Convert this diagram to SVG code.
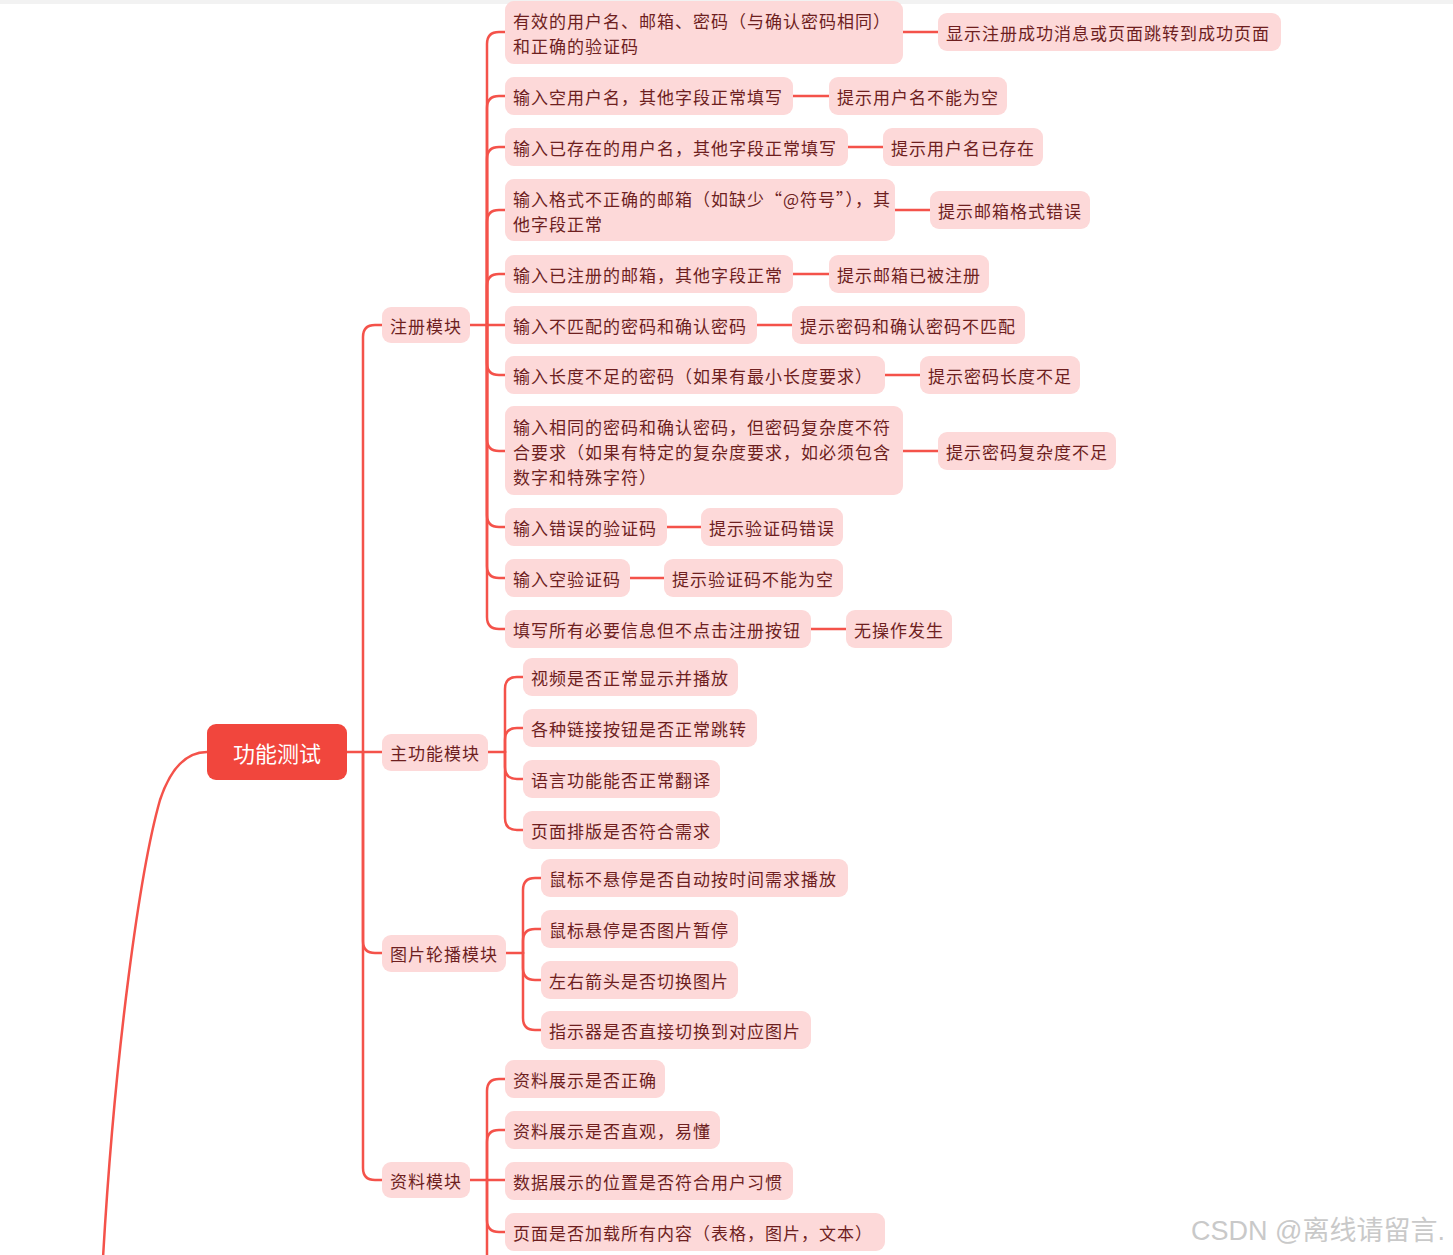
<svg xmlns="http://www.w3.org/2000/svg" width="1453" height="1255" viewBox="0 0 1453 1255">
<style>
.bg{fill:#ffffff}
.box{fill:#fdd9d9}
.t{font-family:"Noto Sans CJK SC","Liberation Sans",sans-serif;font-size:17px;letter-spacing:1px;fill:#6e1f1f;dominant-baseline:central}
.root{fill:#f1463d}
.rt{font-family:"Noto Sans CJK SC","Liberation Sans",sans-serif;font-size:22px;fill:#ffffff;dominant-baseline:central;text-anchor:middle}
.c{fill:none;stroke:#f4524a;stroke-width:2.5;stroke-linecap:round;stroke-linejoin:round}
.wm{font-family:"Liberation Sans","Noto Sans CJK SC",sans-serif;font-size:27px;fill:#c9c9c9}
</style>
<rect class="bg" x="0" y="0" width="1453" height="1255"/>
<rect x="0" y="0" width="1453" height="4" fill="#f2f2f2"/>
<g id="connectors">
  <path class="c" d="M207,752 C185,752 170,770 160,800 C140,870 115,1050 103,1258"/>
  <path class="c" d="M347,752 H382"/>
  <path class="c" d="M363,752 V337 Q363,325 375,325 H382"/>
  <path class="c" d="M363,752 V941 Q363,953 375,953 H382"/>
  <path class="c" d="M363,752 V1168 Q363,1180 375,1180 H382"/>
  <path class="c" d="M470,325 H505"/>
  <path class="c" d="M487,325 V44 Q487,32 499,32 H505"/>
  <path class="c" d="M487,325 V108 Q487,96 499,96 H505"/>
  <path class="c" d="M487,325 V159 Q487,147 499,147 H505"/>
  <path class="c" d="M487,325 V222 Q487,210 499,210 H505"/>
  <path class="c" d="M487,325 V286 Q487,274 499,274 H505"/>
  <path class="c" d="M487,325 V363 Q487,375 499,375 H505"/>
  <path class="c" d="M487,325 V439 Q487,451 499,451 H505"/>
  <path class="c" d="M487,325 V515 Q487,527 499,527 H505"/>
  <path class="c" d="M487,325 V566 Q487,578 499,578 H505"/>
  <path class="c" d="M487,325 V617 Q487,629 499,629 H505"/>
  <path class="c" d="M903,32 H938"/>
  <path class="c" d="M793,96 H829"/>
  <path class="c" d="M848,147 H883"/>
  <path class="c" d="M895,210 H930"/>
  <path class="c" d="M793,274 H829"/>
  <path class="c" d="M757,325 H792"/>
  <path class="c" d="M885,375 H920"/>
  <path class="c" d="M903,451 H938"/>
  <path class="c" d="M667,527 H701"/>
  <path class="c" d="M630,578 H664"/>
  <path class="c" d="M811,629 H846"/>
  <path class="c" d="M488,752 H505"/>
  <path class="c" d="M505,752 V689 Q505,677 517,677 H523"/>
  <path class="c" d="M505,752 V740 Q505,728 517,728 H523"/>
  <path class="c" d="M505,752 V767 Q505,779 517,779 H523"/>
  <path class="c" d="M505,752 V818 Q505,830 517,830 H523"/>
  <path class="c" d="M506,953 H523"/>
  <path class="c" d="M523,953 V890 Q523,878 535,878 H541"/>
  <path class="c" d="M523,953 V941 Q523,929 535,929 H541"/>
  <path class="c" d="M523,953 V968 Q523,980 535,980 H541"/>
  <path class="c" d="M523,953 V1018 Q523,1030 535,1030 H541"/>
  <path class="c" d="M470,1180 H505"/>
  <path class="c" d="M487,1180 V1091 Q487,1079 499,1079 H505"/>
  <path class="c" d="M487,1180 V1142 Q487,1130 499,1130 H505"/>
  <path class="c" d="M487,1180 V1220 Q487,1232 499,1232 H505"/>
  <path class="c" d="M487,1180 V1258"/>
</g>

<g id="root">
  <rect class="root" x="207" y="724" width="140" height="56" rx="9"/>
  <text class="rt" x="277" y="752">功能测试</text>
</g>

<g id="reg">
  <rect class="box" x="382" y="307" width="88" height="36" rx="9"/>
  <text class="t" x="390" y="325">注册模块</text>
</g>
<g id="main">
  <rect class="box" x="382" y="734" width="106" height="37" rx="9"/>
  <text class="t" x="390" y="752">主功能模块</text>
</g>
<g id="carousel">
  <rect class="box" x="382" y="935" width="124" height="37" rx="9"/>
  <text class="t" x="390" y="953">图片轮播模块</text>
</g>
<g id="data">
  <rect class="box" x="382" y="1162" width="88" height="36" rx="9"/>
  <text class="t" x="390" y="1180">资料模块</text>
</g>

<g id="r1">
  <rect class="box" x="505" y="1" width="398" height="63" rx="9"/>
  <text class="t" x="513" y="20">有效的用户名、邮箱、密码（与确认密码相同）</text>
  <text class="t" x="513" y="45">和正确的验证码</text>
</g>
<g id="r1a">
  <rect class="box" x="938" y="13" width="343" height="38" rx="9"/>
  <text class="t" x="946" y="32">显示注册成功消息或页面跳转到成功页面</text>
</g>
<g id="r2">
  <rect class="box" x="505" y="77" width="288" height="38" rx="9"/>
  <text class="t" x="513" y="96">输入空用户名，其他字段正常填写</text>
</g>
<g id="r2a">
  <rect class="box" x="829" y="77" width="178" height="38" rx="9"/>
  <text class="t" x="837" y="96">提示用户名不能为空</text>
</g>
<g id="r3">
  <rect class="box" x="505" y="128" width="343" height="38" rx="9"/>
  <text class="t" x="513" y="147">输入已存在的用户名，其他字段正常填写</text>
</g>
<g id="r3a">
  <rect class="box" x="883" y="128" width="160" height="38" rx="9"/>
  <text class="t" x="891" y="147">提示用户名已存在</text>
</g>
<g id="r4">
  <rect class="box" x="505" y="179" width="390" height="62" rx="9"/>
  <text class="t" x="513" y="198">输入格式不正确的邮箱（如缺少“@符号”），其</text>
  <text class="t" x="513" y="223">他字段正常</text>
</g>
<g id="r4a">
  <rect class="box" x="930" y="191" width="160" height="38" rx="9"/>
  <text class="t" x="938" y="210">提示邮箱格式错误</text>
</g>
<g id="r5">
  <rect class="box" x="505" y="255" width="288" height="38" rx="9"/>
  <text class="t" x="513" y="274">输入已注册的邮箱，其他字段正常</text>
</g>
<g id="r5a">
  <rect class="box" x="829" y="255" width="160" height="38" rx="9"/>
  <text class="t" x="837" y="274">提示邮箱已被注册</text>
</g>
<g id="r6">
  <rect class="box" x="505" y="306" width="252" height="38" rx="9"/>
  <text class="t" x="513" y="325">输入不匹配的密码和确认密码</text>
</g>
<g id="r6a">
  <rect class="box" x="792" y="306" width="233" height="38" rx="9"/>
  <text class="t" x="800" y="325">提示密码和确认密码不匹配</text>
</g>
<g id="r7">
  <rect class="box" x="505" y="356" width="380" height="38" rx="9"/>
  <text class="t" x="513" y="375">输入长度不足的密码（如果有最小长度要求）</text>
</g>
<g id="r7a">
  <rect class="box" x="920" y="356" width="160" height="38" rx="9"/>
  <text class="t" x="928" y="375">提示密码长度不足</text>
</g>
<g id="r8">
  <rect class="box" x="505" y="406" width="398" height="89" rx="9"/>
  <text class="t" x="513" y="426">输入相同的密码和确认密码，但密码复杂度不符</text>
  <text class="t" x="513" y="451">合要求（如果有特定的复杂度要求，如必须包含</text>
  <text class="t" x="513" y="476">数字和特殊字符）</text>
</g>
<g id="r8a">
  <rect class="box" x="938" y="432" width="178" height="38" rx="9"/>
  <text class="t" x="946" y="451">提示密码复杂度不足</text>
</g>
<g id="r9">
  <rect class="box" x="505" y="508" width="162" height="38" rx="9"/>
  <text class="t" x="513" y="527">输入错误的验证码</text>
</g>
<g id="r9a">
  <rect class="box" x="701" y="508" width="142" height="38" rx="9"/>
  <text class="t" x="709" y="527">提示验证码错误</text>
</g>
<g id="r10">
  <rect class="box" x="505" y="559" width="125" height="38" rx="9"/>
  <text class="t" x="513" y="578">输入空验证码</text>
</g>
<g id="r10a">
  <rect class="box" x="664" y="559" width="179" height="38" rx="9"/>
  <text class="t" x="672" y="578">提示验证码不能为空</text>
</g>
<g id="r11">
  <rect class="box" x="505" y="610" width="306" height="38" rx="9"/>
  <text class="t" x="513" y="629">填写所有必要信息但不点击注册按钮</text>
</g>
<g id="r11a">
  <rect class="box" x="846" y="610" width="106" height="38" rx="9"/>
  <text class="t" x="854" y="629">无操作发生</text>
</g>

<g id="m1">
  <rect class="box" x="523" y="658" width="215" height="38" rx="9"/>
  <text class="t" x="531" y="677">视频是否正常显示并播放</text>
</g>
<g id="m2">
  <rect class="box" x="523" y="709" width="234" height="38" rx="9"/>
  <text class="t" x="531" y="728">各种链接按钮是否正常跳转</text>
</g>
<g id="m3">
  <rect class="box" x="523" y="760" width="197" height="38" rx="9"/>
  <text class="t" x="531" y="779">语言功能能否正常翻译</text>
</g>
<g id="m4">
  <rect class="box" x="523" y="811" width="197" height="38" rx="9"/>
  <text class="t" x="531" y="830">页面排版是否符合需求</text>
</g>

<g id="c1">
  <rect class="box" x="541" y="859" width="307" height="38" rx="9"/>
  <text class="t" x="549" y="878">鼠标不悬停是否自动按时间需求播放</text>
</g>
<g id="c2">
  <rect class="box" x="541" y="910" width="197" height="38" rx="9"/>
  <text class="t" x="549" y="929">鼠标悬停是否图片暂停</text>
</g>
<g id="c3">
  <rect class="box" x="541" y="961" width="197" height="38" rx="9"/>
  <text class="t" x="549" y="980">左右箭头是否切换图片</text>
</g>
<g id="c4">
  <rect class="box" x="541" y="1011" width="270" height="38" rx="9"/>
  <text class="t" x="549" y="1030">指示器是否直接切换到对应图片</text>
</g>

<g id="d1">
  <rect class="box" x="505" y="1060" width="160" height="38" rx="9"/>
  <text class="t" x="513" y="1079">资料展示是否正确</text>
</g>
<g id="d2">
  <rect class="box" x="505" y="1111" width="215" height="38" rx="9"/>
  <text class="t" x="513" y="1130">资料展示是否直观，易懂</text>
</g>
<g id="d3">
  <rect class="box" x="505" y="1162" width="288" height="38" rx="9"/>
  <text class="t" x="513" y="1181">数据展示的位置是否符合用户习惯</text>
</g>
<g id="d4">
  <rect class="box" x="505" y="1213" width="380" height="38" rx="9"/>
  <text class="t" x="513" y="1232">页面是否加载所有内容（表格，图片，文本）</text>
</g>

<text class="wm" x="1191" y="1240">CSDN @离线请留言.</text>
</svg>
